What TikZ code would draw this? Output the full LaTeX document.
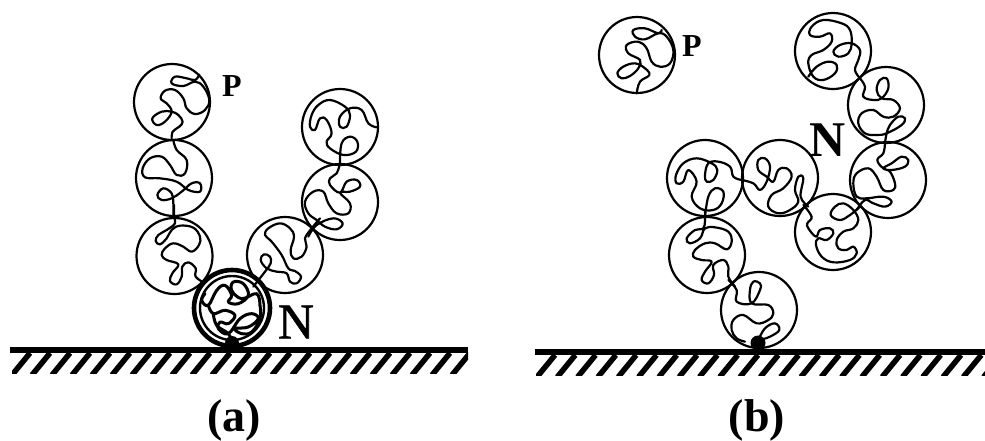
\documentclass[tikz,border=0pt]{standalone}
\usepackage{fontspec}
\setmainfont{Liberation Serif}
\newfontfamily\heavyserif[FakeBold=1.2]{Liberation Serif}
\newcommand{\zchain}[4][coil]{\begin{scope}[shift={(#2,#3)},x=.3333pt,y=-.3333pt]\draw[#1] plot[smooth,tension=.65] coordinates {#4};\end{scope}}
\tikzset{
  bead/.style={draw=black,circle,line width=2.2pt,minimum size=76pt,inner sep=0pt},
  coil/.style={line width=2.2pt,line cap=round,line join=round},
  thickcoil/.style={line width=3pt,line cap=round,line join=round},
  ground/.style={line width=6pt},
  hatchline/.style={line width=5.5pt},
  anchorblob/.style={fill=black,circle,inner sep=0pt,minimum size=15pt},
  smalllab/.style={font=\fontsize{32}{32}\selectfont\bfseries,inner sep=0pt},
  biglab/.style={font=\fontsize{50}{50}\selectfont\heavyserif,inner sep=0pt},
  bigboldlab/.style={font=\fontsize{50}{50}\selectfont\bfseries,inner sep=0pt},
  caplab/.style={font=\fontsize{46}{46}\selectfont\bfseries,inner sep=0pt}
}
\begin{document}
\begin{tikzpicture}[x=1pt,y=-1pt]
\useasboundingbox (0,0) rectangle (985,440);
% ground (a)
\draw[ground] (10,350) -- (468,350);
\begin{scope}
\clip (12,352) rectangle (468,373);
\foreach \i in {0,...,24}{\draw[hatchline] ({30+20*\i},353) -- ({12+20*\i},375);}
\end{scope}
% ground (b)
\draw[ground] (535,352) -- (985,352);
\begin{scope}
\clip (536,354) rectangle (985,375);
\foreach \i in {0,...,24}{\draw[hatchline] ({555+20.3*\i},355) -- ({537+20.3*\i},377);}
\end{scope}
% beads (a)
\node[bead] (a1) at (172,102) {};
\node[bead] (a2) at (174,178) {};
\node[bead] (a3) at (174.5,256) {};
\node[bead] (a4) at (340,127) {};
\node[bead] (a5) at (340,202) {};
\node[bead] (a6) at (285,255) {};
\node[draw=black,circle,line width=4.6pt,minimum size=76pt,inner sep=0pt] (a0) at (232,308) {};
\node[draw=black,circle,line width=2.4pt,minimum size=64pt,inner sep=0pt] (a0i) at (232,308) {};
% coils (a), traced on zoomed crops
\zchain{120}{70}{(155,210)(158,185)(178,170)(188,155)(175,135)(155,125)(125,125)(97,145)(110,165)(135,155)(155,125)(140,100)(122,85)(135,62)(165,60)(190,85)(200,115)(225,132)(255,120)(268,90)(250,50)(225,35)(190,48)(155,40)(165,20)(200,25)(225,30)(238,14)}
\zchain{120}{70}{(160,210)(170,240)(200,270)(195,310)(170,315)(150,285)(125,260)(90,265)(68,295)(75,322)(120,325)(170,335)(205,360)(240,365)(240,340)(215,340)(185,365)(155,385)(125,390)(112,375)(130,355)(155,370)(160,400)(160,440)}
\zchain{125}{205}{(147,0)(147,35)(150,55)(125,75)(100,90)(92,108)(105,118)(125,100)(140,75)(165,62)(205,68)(225,95)(222,120)(200,140)(175,125)(145,115)(120,130)(110,150)(125,165)(160,178)(142,205)(135,228)(155,238)(170,215)(172,185)(190,172)(212,190)(212,215)(240,235)}
\zchain{240}{205}{(40,245)(75,200)(92,175)(90,155)(72,148)(62,165)(80,190)(110,200)(140,205)(150,230)(170,235)(183,215)(165,198)(145,190)(125,150)(95,110)(75,90)(85,70)(120,55)(150,70)(162,95)(152,135)(160,160)(185,155)(200,125)(195,100)(215,70)(240,40)}
\zchain{120}{70}{(565,500)(590,465)(640,445)(668,460)(650,478)(615,470)(590,450)(565,430)(555,395)(580,365)(610,365)(625,400)(650,430)(685,430)(690,400)(660,368)(690,365)(720,350)(710,330)(680,335)(660,368)(630,345)(630,325)(650,310)(660,280)}
\zchain{120}{70}{(660,280)(665,220)(690,200)(712,215)(708,245)(670,255)(630,235)(620,215)(635,190)(620,150)(600,145)(585,180)(570,170)(575,135)(595,105)(630,90)(675,110)(690,135)(680,170)(660,170)(660,140)(690,115)(725,120)(745,160)(770,172)}
\zchain[thickcoil]{185}{262}{(60,95)(50,115)(70,130)(95,85)(120,70)(140,100)(130,120)(160,125)(190,100)(175,65)(145,60)(140,85)(170,110)(215,95)(225,130)}
\zchain[thickcoil]{185}{262}{(70,130)(85,155)(120,145)(150,160)(130,185)(105,180)(100,200)(130,215)(165,170)(200,155)(220,170)(190,195)(150,200)(170,215)(200,210)(225,170)(225,130)}
\zchain[thickcoil]{185}{262}{(85,155)(95,190)(130,215)(140,240)}
\node[anchorblob,minimum size=14pt] (ab) at (232,343) {};
% beads (b)
\node[bead] (bp) at (637,55) {};
\node[bead] (b1) at (833,51) {};
\node[bead] (b2) at (886,105) {};
\node[bead] (b3) at (888,180) {};
\node[bead] (b4) at (833,232) {};
\node[bead] (b5) at (780,178) {};
\node[bead] (b6) at (705,178) {};
\node[bead] (b7) at (707,255) {};
\node[bead] (b8) at (759,310) {};
% coils (b)
\zchain{590}{0}{(140,280)(150,245)(178,225)(165,205)(135,190)(100,200)(82,220)(95,235)(120,228)(145,205)(150,180)(115,160)(110,135)(145,125)(170,145)(185,185)(210,200)(240,190)(250,150)(230,110)(205,100)(165,118)(135,110)(130,90)(165,85)(205,100)(215,90)}
\zchain{590}{0}{(810,235)(795,210)(805,180)(810,150)(785,130)(750,135)(730,155)(745,170)(775,160)(785,130)(780,90)(755,70)(700,60)(665,80)(660,105)(690,110)(720,100)(725,125)(700,150)(665,165)(655,190)(670,230)(700,240)(735,220)(740,195)(715,185)(680,200)(655,230)}
\zchain{590}{0}{(810,235)(825,260)(820,290)(850,300)(875,295)(895,265)(890,235)(870,240)(860,270)(875,295)(910,300)(930,325)(910,350)(880,350)(850,330)(815,340)(805,370)(825,400)(860,405)(890,400)(935,375)(945,355)(925,350)(900,375)(890,400)(885,430)}
\zchain{590}{0}{(885,430)(880,460)(862,480)(880,505)(905,510)(945,500)(955,480)(935,470)(905,490)(880,505)(900,515)(915,550)(910,570)(880,570)(860,530)(835,505)(800,520)(790,550)(800,590)(830,595)(880,590)(905,605)(885,620)(850,610)(825,600)(800,630)}
\zchain{790}{185}{(210,65)(180,90)(150,105)(122,90)(135,65)(160,55)(190,75)(205,105)(190,130)(160,140)(140,165)(145,190)(170,195)(190,185)(200,205)(180,225)(130,232)(95,215)(78,180)(85,160)(110,165)(130,145)(120,130)(90,135)(78,155)(55,130)(52,115)(65,95)(40,60)}
\zchain{590}{0}{(655,620)(632,590)(640,535)(625,530)(615,570)(625,605)(600,630)(565,640)(535,620)(545,585)(580,565)(605,530)(590,505)(565,510)(550,545)(530,530)(505,510)(505,480)(525,475)(540,500)(530,545)(510,570)(490,550)(455,540)}
\zchain{590}{0}{(455,540)(430,530)(420,500)(385,485)(355,490)(345,525)(350,545)(370,540)(382,510)(365,490)(320,475)(280,490)(258,525)(260,550)(280,545)(295,510)(320,545)(305,590)(330,625)(370,630)(395,610)(400,575)(375,565)(355,590)(345,650)}
\zchain{660}{210}{(135,0)(135,30)(130,55)(105,60)(80,85)(90,100)(120,85)(135,55)(165,52)(205,65)(215,95)(200,118)(165,100)(135,100)(105,120)(100,140)(125,150)(155,155)(135,185)(125,210)(145,220)(162,195)(160,165)(190,150)(205,170)(205,200)(225,230)}
\zchain{520}{240}{(625,120)(650,150)(650,185)(695,190)(720,150)(720,130)(700,125)(690,150)(695,190)(745,195)(760,220)(745,240)(710,250)(670,225)(640,240)(635,270)(650,295)(675,305)}
\zchain{520}{240}{(715,300)(735,265)(765,250)(778,270)(750,290)(720,300)}
\node[anchorblob] (bb) at (758,343) {};
% labels
\node[smalllab] (lpa) at (232,86) {P};
\node[smalllab] (lpb) at (692,46) {P};
\node[biglab] (lna) at (296,322) {N};
\node[bigboldlab] (lnb) at (828,140) {N};
\node[caplab] (ca) at (234,420) {(a)};
\node[caplab] (cb) at (757,420) {(b)};
\end{tikzpicture}
\end{document}
